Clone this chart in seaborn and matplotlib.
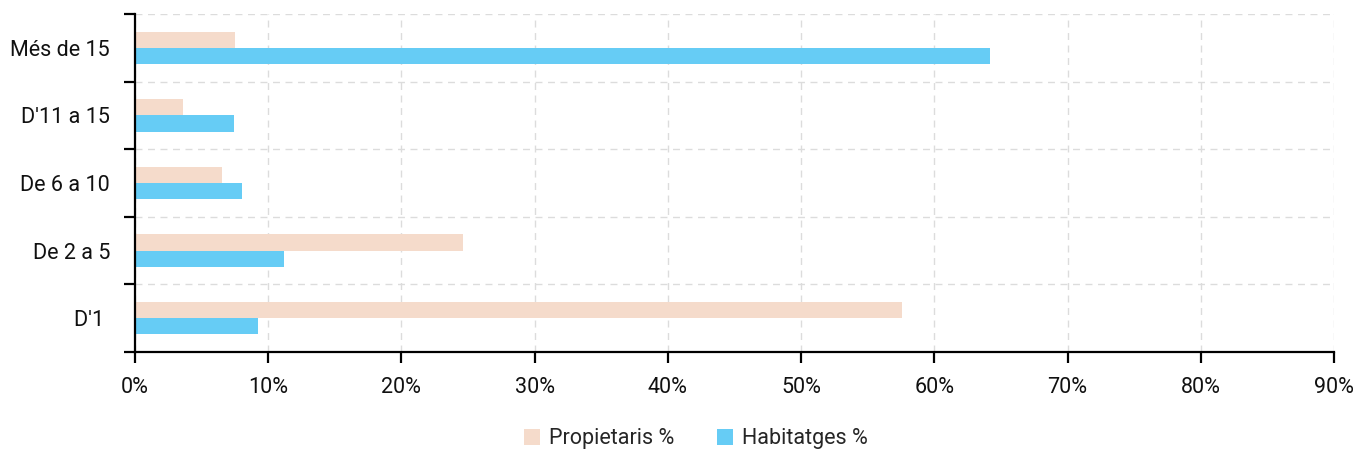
import matplotlib
matplotlib.use("Agg")
import matplotlib.pyplot as plt
from matplotlib.ticker import FixedLocator, PercentFormatter
import pandas as pd
import seaborn as sns

categories = ["Més de 15", "D'11 a 15", "De 6 a 10", "De 2 a 5", "D'1 "]
propietaris = [7.5, 3.6, 6.5, 24.6, 57.6]
habitatges = [64.2, 7.4, 8.0, 11.2, 9.2]
series_names = ["Propietaris %", "Habitatges %"]
colors = ["#F5DBCB", "#66CCF5"]
x_ticks = [0, 10, 20, 30, 40, 50, 60, 70, 80, 90]

df = pd.DataFrame({
    "categoria": categories * 2,
    "valor": propietaris + habitatges,
    "serie": [series_names[0]] * len(categories) + [series_names[1]] * len(categories),
})

sns.set_theme(style="white")
plt.rcParams["font.family"] = ["Roboto", "DejaVu Sans"]

fig = plt.figure(figsize=(13.59, 4.53), dpi=100)
ax = fig.add_axes([0.0993, 0.223, 0.8823, 0.746])

sns.barplot(
    data=df, y="categoria", x="valor", hue="serie", orient="h",
    order=categories, hue_order=series_names, palette=colors,
    width=0.48, ax=ax, saturation=1, edgecolor="none",
)

ax.set_xlim(0, 90)
ax.set_ylim(len(categories) - 0.5, -0.5)
ax.xaxis.set_major_locator(FixedLocator(x_ticks))
ax.xaxis.set_major_formatter(PercentFormatter(decimals=0))

# labels at group centres, tick marks and gridlines at group boundaries
ax.set_yticks(range(len(categories)))
ax.set_yticklabels(categories)
ax.set_yticks([i - 0.5 for i in range(len(categories) + 1)], minor=True)
ax.tick_params(axis="y", which="major", length=0, pad=18, labelsize=15.5, colors="#111111")
ax.tick_params(axis="y", which="minor", length=8, width=1.6, color="black", direction="out", left=True)
ax.tick_params(axis="x", which="major", length=8, width=1.6, color="black", direction="out",
               bottom=True, labelsize=15.5, pad=10, labelcolor="#111111")

ax.grid(False)
ax.grid(True, axis="x", which="major", color="#dcdcdc", linestyle=(0, (5, 4)), linewidth=1)
ax.grid(True, axis="y", which="minor", color="#dcdcdc", linestyle=(0, (5, 4)), linewidth=1)
ax.set_axisbelow(True)

for side in ["top", "right"]:
    ax.spines[side].set_visible(False)
for side in ["left", "bottom"]:
    ax.spines[side].set_color("black")
    ax.spines[side].set_linewidth(1.6)

ax.set_xlabel("")
ax.set_ylabel("")

handles, labels = ax.get_legend_handles_labels()
ax.legend_.remove()
fig.legend(handles, labels, loc="lower center", bbox_to_anchor=(0.512, -0.035), ncol=2,
           frameon=False, fontsize=15.5, handlelength=0.75, handleheight=0.75,
           handletextpad=0.4, columnspacing=2.0)

fig.savefig("out.png", dpi=100)
